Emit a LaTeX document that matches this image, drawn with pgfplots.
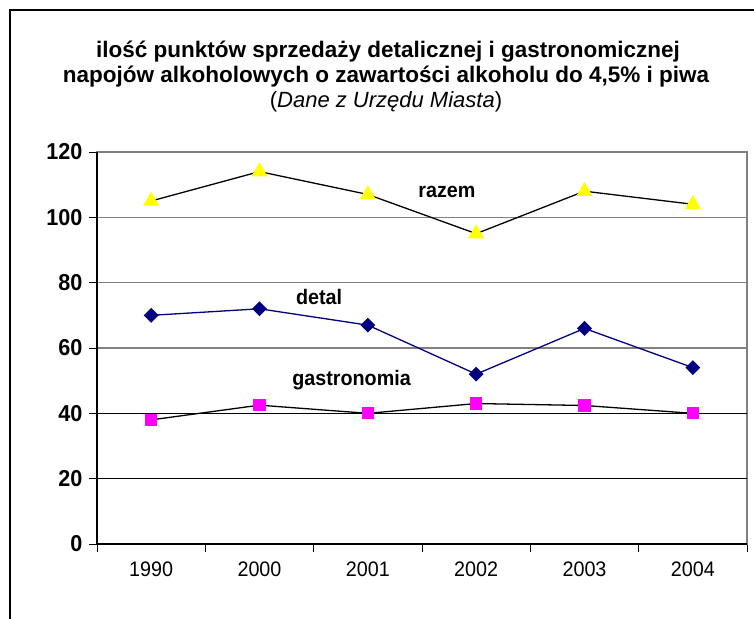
\documentclass[border=0pt]{standalone}
\usepackage{fontspec}
\setmainfont{Liberation Sans}[FakeStretch=0.94]
\newfontfamily\titlefont{Liberation Sans}
\usepackage{pgfplots}
\pgfplotsset{compat=1.18}

\definecolor{razemyellow}{RGB}{255,255,0}
\definecolor{detalnavy}{RGB}{0,0,128}
\definecolor{gastromagenta}{RGB}{255,0,255}
\definecolor{gridgray}{RGB}{128,128,128}

\begin{document}
\begin{tikzpicture}
\useasboundingbox (0,0) rectangle (754pt,-618pt);
\clip (0,0) rectangle (754pt,-618pt);
\fill[white] (0,0) rectangle (754pt,-618pt);
\draw[line width=1.4pt] (10pt,-10pt) rectangle (770pt,-640pt);

% title
\node[anchor=base, font=\titlefont\bfseries\fontsize{22.5}{26}\selectfont] at (388pt,-57pt)
  {ilość punktów sprzedaży detalicznej i gastronomicznej};
\node[anchor=base, font=\titlefont\bfseries\fontsize{22.5}{26}\selectfont] at (386pt,-82pt)
  {napojów alkoholowych o zawartości alkoholu do 4,5\% i piwa};
\node[anchor=base, font=\titlefont\fontsize{22}{25}\selectfont] at (386pt,-107pt)
  {(\textit{Dane z Urzędu Miasta})};

\begin{axis}[
    scale only axis,
    width=650pt, height=392pt,
    at={(97pt,-544pt)}, anchor=south west,
    xmin=-0.5, xmax=5.5,
    ymin=0, ymax=120,
    xtick={-0.5,0.5,...,5.5},
    xticklabels={1990,2000,2001,2002,2003,2004},
    x tick label as interval,
    ytick={0,20,...,120},
    xtick pos=bottom, ytick pos=left,
    tick align=outside,
    major tick length=8pt,
    tick style={black, line width=0.8pt},
    axis line style={gridgray, line width=1.2pt},
    ymajorgrids,
    grid style={gridgray, line width=1.2pt},
    extra y ticks={20,40},
    extra y tick labels={},
    extra y tick style={grid style={black, line width=0.8pt}, major tick length=0pt},
    /pgf/number format/assume math mode=true,
    yticklabel style={font=\bfseries\fontsize{23}{26}\selectfont, xshift=-3pt},
    xticklabel style={font=\fontsize{21}{24}\selectfont, yshift=-6pt},
    clip=false,
]
\addplot[black, line width=1.3pt, mark=triangle*,
    mark options={fill=razemyellow, draw=razemyellow}, mark size=8pt]
    coordinates {(0,105) (1,114) (2,107) (3,95) (4,108) (5,104)};
\addplot[detalnavy, line width=1.3pt, mark=square*,
    mark options={fill=detalnavy, draw=detalnavy, rotate=45}, mark size=4.6pt]
    coordinates {(0,70) (1,72) (2,67) (3,52) (4,66) (5,54)};
\addplot[black, line width=1.3pt, mark=square*,
    mark options={fill=gastromagenta, draw=gastromagenta}, mark size=5.5pt]
    coordinates {(0,38) (1,42.5) (2,40) (3,43) (4,42.4) (5,40)};

\draw[black, line width=1.3pt] (rel axis cs:0,1) -- (rel axis cs:0,0) -- (rel axis cs:1,0);

\node[font=\bfseries\fontsize{21}{24}\selectfont] at (axis cs:2.73,107.7) {razem};
\node[font=\bfseries\fontsize{21}{24}\selectfont] at (axis cs:1.55,75.6) {detal};
\node[font=\bfseries\fontsize{21}{24}\selectfont] at (axis cs:1.85,50.2) {gastronomia};
\end{axis}
\end{tikzpicture}
\end{document}
